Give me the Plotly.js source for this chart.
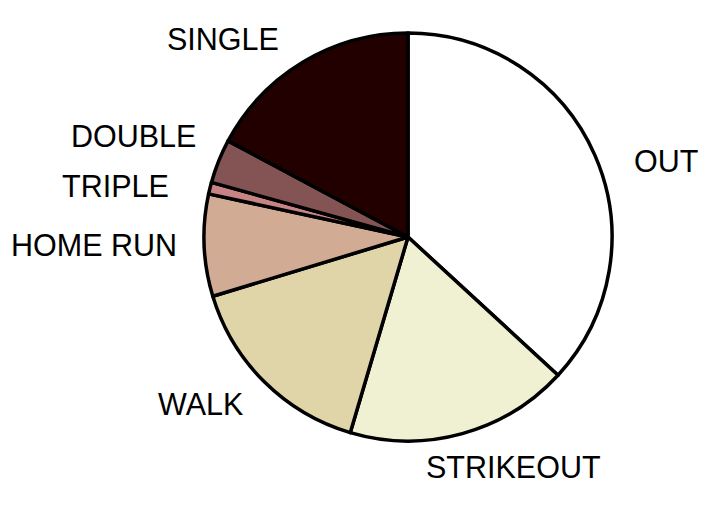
<!DOCTYPE html>
<html>
<head>
<meta charset="utf-8">
<script src="https://cdn.plot.ly/plotly-3.0.1.min.js"></script>
<style>html,body{margin:0;padding:0;background:#fff;}#chart{width:722px;height:514px;}</style>
</head>
<body>
<div id="chart"></div>
<script>
// Data (percent of plate appearances), clockwise from 12 o'clock
const categories = ["OUT", "STRIKEOUT", "WALK", "HOME RUN", "TRIPLE", "DOUBLE", "SINGLE"];
const values = [36.85, 17.72, 15.74, 8.08, 0.92, 3.50, 17.19];
const colors = ["#ffffff", "#f0f0d2", "#e0d5a8", "#d2ab94", "#c88484", "#845454", "#230000"];

// Layout: label anchor positions in pixels (x, y-center) and alignment
const labelPos = [[632, 161], [424, 467], [245, 404], [179, 245], [171, 186], [198, 136], [281, 39]];
const labelAlign = ["left", "left", "right", "right", "right", "right", "right"];

const W = 722, H = 514;
const cx = 408, cy = 237, R = 204;

const trace = {
  type: "pie",
  labels: categories,
  values: values,
  sort: false,
  direction: "clockwise",
  rotation: 0,
  textinfo: "none",
  hoverinfo: "none",
  showlegend: false,
  marker: { colors: colors, line: { color: "#000000", width: 3.5 } },
  domain: { x: [(cx - R) / W, (cx + R) / W], y: [(H - cy - R) / H, (H - cy + R) / H] }
};

const annotations = categories.map((c, i) => ({
  text: c,
  xref: "paper", yref: "paper",
  x: labelPos[i][0] / W,
  y: 1 - labelPos[i][1] / H,
  xanchor: labelAlign[i],
  yanchor: "middle",
  showarrow: false,
  font: { family: "Liberation Sans, Arial, sans-serif", size: 30.5, color: "#000000" }
}));

const layout = {
  width: W, height: H,
  margin: { l: 0, r: 0, t: 0, b: 0 },
  paper_bgcolor: "#ffffff",
  plot_bgcolor: "#ffffff",
  annotations: annotations
};

Plotly.newPlot("chart", [trace], layout, { staticPlot: true, displayModeBar: false });
</script>
</body>
</html>
